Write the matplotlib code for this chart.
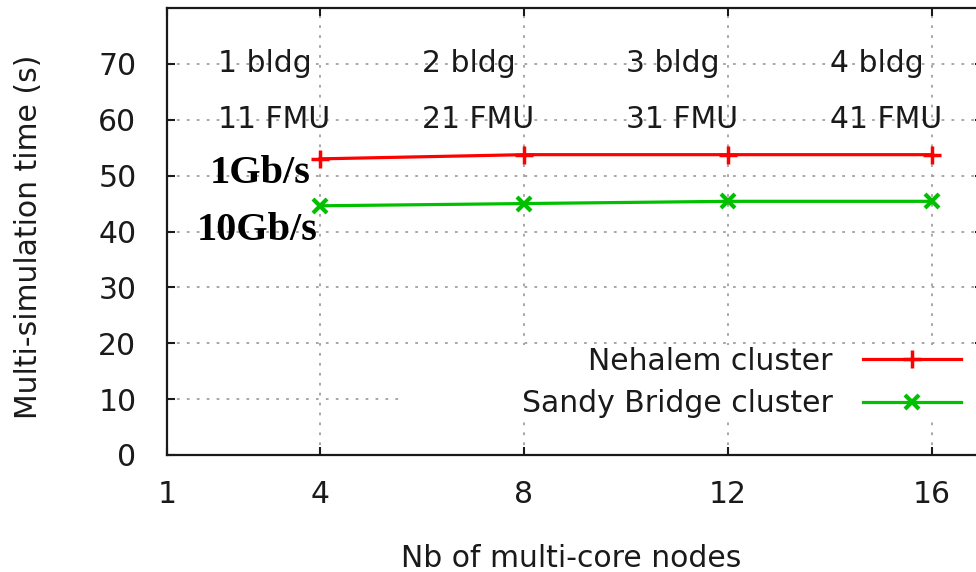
import matplotlib
matplotlib.use("Agg")
import matplotlib.pyplot as plt
from matplotlib.patches import Rectangle

# data
nodes = [4, 8, 12, 16]
nehalem = [53.0, 53.75, 53.75, 53.75]
sandy = [44.6, 45.0, 45.4, 45.4]
x_ticks = [1, 4, 8, 12, 16]
y_ticks = [0, 10, 20, 30, 40, 50, 60, 70]
bldg_x = [2, 6, 10, 14]
bldg_labels = ["1 bldg", "2 bldg", "3 bldg", "4 bldg"]
fmu_labels = ["11 FMU", "21 FMU", "31 FMU", "41 FMU"]

plt.rcParams["font.family"] = "DejaVu Sans"
fs = 21.5

fig = plt.figure(figsize=(9.76, 5.72), dpi=100)
ax = fig.add_axes([167 / 976, 117 / 572, 816 / 976, 447 / 572])

ax.plot(nodes, nehalem, color="#ff0000", lw=2.3, marker="+", ms=13, mew=2.5,
        label="Nehalem cluster", zorder=4)
ax.plot(nodes, sandy, color="#00c000", lw=2.3, marker="x", ms=10, mew=3,
        label="Sandy Bridge cluster", zorder=4)

ax.set_xlim(1, 17)
ax.set_ylim(0, 80)
ax.set_xticks(x_ticks)
ax.set_yticks(y_ticks)
ax.tick_params(direction="in", length=6, width=1.5, top=True, right=True,
               labelsize=fs, colors="#1a1a1a")
ax.tick_params(axis="x", pad=18)
ax.tick_params(axis="y", pad=22)
for s in ax.spines.values():
    s.set_linewidth(1.6)
    s.set_color("#1a1a1a")

ax.grid(True, color="#a0a0a0", linestyle=(0, (1.5, 4)), linewidth=1.3)
ax.set_axisbelow(True)

# building / FMU annotations
for x, b, f in zip(bldg_x, bldg_labels, fmu_labels):
    ax.text(x, 70, b, ha="left", va="center", fontsize=fs, color="#1a1a1a")
    ax.text(x, 60, f, ha="left", va="center", fontsize=fs, color="#1a1a1a")

ax.text(3.82, 48.6, "1Gb/s", ha="right", va="baseline", fontsize=29,
        fontweight="bold", family="Liberation Serif")
ax.text(3.95, 38.4, "10Gb/s", ha="right", va="baseline", fontsize=29,
        fontweight="bold", family="Liberation Serif")

ax.set_xlabel("Nb of multi-core nodes", fontsize=fs, color="#1a1a1a")
ax.set_ylabel("Multi-simulation time (s)", fontsize=fs, color="#1a1a1a")
ax.xaxis.set_label_coords(0.495, -0.20)
ax.yaxis.set_label_coords(-0.152, 0.488)

# white key background (gnuplot style), leaves the 20 grid line visible
ax.add_patch(Rectangle((0.288, 0.074), 0.72, 0.172, transform=ax.transAxes,
                       facecolor="white", edgecolor="none", zorder=1))

leg = ax.legend(loc="upper right", bbox_to_anchor=(0.979, 0.252),
                markerfirst=False, fontsize=fs, frameon=False,
                borderpad=0.15, borderaxespad=0, handlelength=3.3,
                handletextpad=1.0, labelspacing=0.45)
for t in leg.get_texts():
    t.set_color("#1a1a1a")
leg.set_zorder(3)

fig.savefig("out.png", dpi=100)
